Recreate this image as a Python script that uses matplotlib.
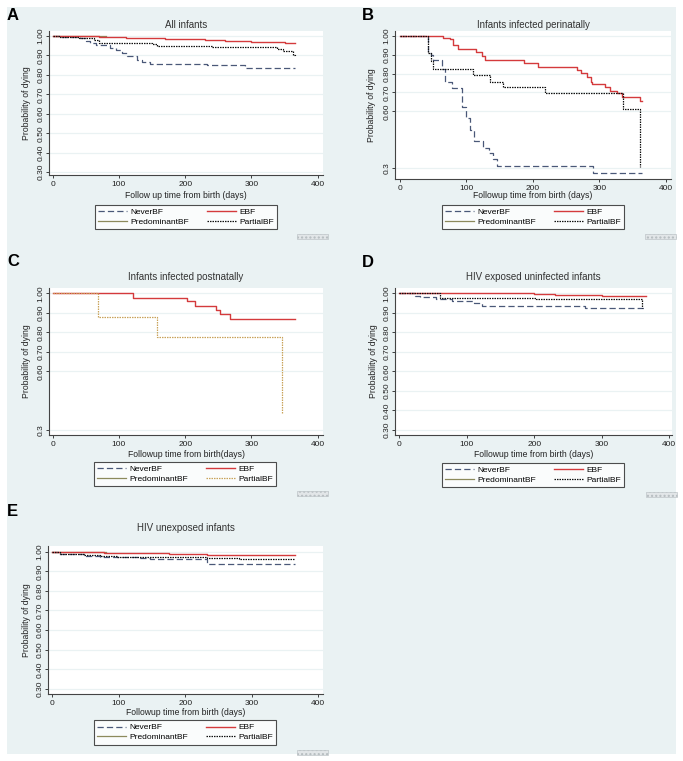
import matplotlib
matplotlib.use("Agg")
import matplotlib.pyplot as plt
from matplotlib.lines import Line2D
from matplotlib.patches import Rectangle

plt.rcParams['font.family'] = ['Liberation Sans', 'DejaVu Sans']

W, H = 683, 761

# ---- data (days, survival) ----
A_never_t = [0, 11, 41, 50, 57, 66, 86, 96, 104, 112, 127, 135, 147, 233, 290, 365]
A_never_s = [1.0, 0.997, 0.99, 0.975, 0.962, 0.952, 0.937, 0.928, 0.912, 0.895, 0.878, 0.866, 0.854, 0.849, 0.835, 0.835]
A_ebf_t = [0, 40, 70, 90, 110, 140, 170, 200, 230, 260, 285, 300, 330, 350, 365]
A_ebf_s = [1.0, 0.998, 0.996, 0.994, 0.992, 0.989, 0.986, 0.983, 0.979, 0.976, 0.972, 0.969, 0.967, 0.965, 0.965]
A_pred_t = [0, 80]
A_pred_s = [1.0, 1.0]
A_partial_t = [0, 10, 40, 62, 70, 150, 157, 240, 338, 348, 362, 365]
A_partial_s = [1.0, 0.994, 0.99, 0.978, 0.963, 0.958, 0.949, 0.945, 0.935, 0.924, 0.905, 0.897]

B_never_t = [0, 42, 47, 50, 63, 68, 78, 94, 100, 105, 111, 125, 134, 140, 146, 291, 365]
B_never_s = [1.0, 0.911, 0.899, 0.872, 0.823, 0.757, 0.722, 0.624, 0.562, 0.5, 0.443, 0.403, 0.376, 0.346, 0.309, 0.27, 0.27]
B_ebf_t = [0, 65, 75, 80, 88, 115, 123, 128, 186, 208, 266, 273, 281, 287, 289, 309, 316, 326, 334, 361, 365]
B_ebf_s = [1.0, 0.988, 0.982, 0.952, 0.929, 0.917, 0.894, 0.872, 0.858, 0.833, 0.819, 0.805, 0.784, 0.757, 0.743, 0.727, 0.707, 0.699, 0.677, 0.656, 0.656]
B_partial_t = [0, 42, 47, 50, 110, 135, 155, 218, 335, 362]
B_partial_s = [1.0, 0.91, 0.87, 0.823, 0.793, 0.757, 0.727, 0.699, 0.61, 0.305]

C_ebf_t = [0, 121, 202, 215, 247, 253, 268, 365]
C_ebf_s = [1.0, 0.978, 0.961, 0.937, 0.915, 0.894, 0.869, 0.869]
C_partial_t = [0, 68, 157, 346]
C_partial_s = [1.0, 0.877, 0.778, 0.389]

D_never_t = [0, 23, 31, 55, 78, 110, 122, 275, 365]
D_never_s = [1.0, 0.988, 0.983, 0.971, 0.961, 0.949, 0.937, 0.923, 0.923]
D_ebf_t = [0, 200, 230, 287, 300, 365]
D_ebf_s = [1.0, 0.997, 0.993, 0.99, 0.988, 0.988]
D_partial_t = [0, 60, 65, 203, 360]
D_partial_s = [1.0, 0.978, 0.974, 0.969, 0.923]

E_never_t = [0, 9, 47, 72, 92, 132, 147, 232, 365]
E_never_s = [1.0, 0.986, 0.98, 0.975, 0.971, 0.966, 0.963, 0.937, 0.937]
E_ebf_t = [0, 9, 77, 152, 175, 232, 365]
E_ebf_s = [1.0, 0.997, 0.995, 0.992, 0.989, 0.985, 0.983]
E_pred_t = [0, 80]
E_pred_s = [1.0, 1.0]
E_partial_t = [0, 11, 47, 72, 97, 132, 232, 280, 365]
E_partial_s = [1.0, 0.986, 0.983, 0.978, 0.975, 0.971, 0.966, 0.961, 0.961]

x_ticks = [0, 100, 200, 300, 400]
y_ticks_full = [0.30, 0.40, 0.50, 0.60, 0.70, 0.80, 0.90, 1.00]
y_labels_full = ["0.30", "0.40", "0.50", "0.60", "0.70", "0.80", "0.90", "1.00"]
y_ticks_short = [0.3, 0.60, 0.70, 0.80, 0.90, 1.00]
y_labels_short = ["0.3", "0.60", "0.70", "0.80", "0.90", "1.00"]
legend_names = ["NeverBF", "EBF", "PredominantBF", "PartialBF"]

BG = "#eaf2f3"
NAVY = "#4a5878"
RED = "#d43a3c"
OLIVE = "#8c8a5c"
TAN = "#c9a35a"
BLACK = "#111111"

STYLE = {
    "never": dict(color=NAVY, lw=0.9, dashes=(5, 2.5)),
    "ebf": dict(color=RED, lw=1.0),
    "pred": dict(color=OLIVE, lw=0.9),
    "partial": dict(color=BLACK, lw=0.9, dashes=(1.2, 0.8)),
}

fig = plt.figure(figsize=(W / 100, H / 100), dpi=100)
fig.patch.set_facecolor("white")
fig.add_artist(Rectangle((7 / W, 1 - 754 / H), (676 - 7) / W, (754 - 7) / H,
                         transform=fig.transFigure, facecolor=BG, edgecolor="none", zorder=0))


def fx(px):
    return px / W


def fy(py):
    return 1 - py / H


def draw_panel(letter, title, xlabel, box, xlim, ylim, yticks, ylabels,
               curves, leg_box, partial_color, title_y, xlabel_y, ylabel_x, letter_xy):
    left, top, right, bottom = box
    ax = fig.add_axes([fx(left), fy(bottom), (right - left) / W, (bottom - top) / H])
    ax.set_facecolor("white")
    for key, (t, s) in curves.items():
        st = dict(STYLE[key])
        if key == "partial":
            st["color"] = partial_color
        ax.step(t, s, where="post", **st)
    ax.set_xlim(*xlim)
    ax.set_ylim(*ylim)
    ax.set_xticks(x_ticks)
    ax.set_yticks(yticks)
    ax.set_yticklabels(ylabels, rotation=90, va="center")
    for yv in yticks:
        ax.axhline(yv, color=BG, lw=0.9, zorder=0)
    for sp in ["top", "right"]:
        ax.spines[sp].set_visible(False)
    for sp in ["left", "bottom"]:
        ax.spines[sp].set_color("#444444")
        ax.spines[sp].set_linewidth(0.8)
    ax.tick_params(axis="x", length=2.5, width=0.6, pad=1.5, labelsize=6.0, colors="#222222")
    ax.tick_params(axis="y", length=2.5, width=0.6, pad=1.0, labelsize=6.0, colors="#222222")

    cx = (left + right) / 2
    fig.text(fx(cx), fy(title_y), title, ha="center", va="center", fontsize=7, color="#333333")
    fig.text(fx(cx), fy(xlabel_y), xlabel, ha="center", va="center", fontsize=6.2, color="#222222")
    fig.text(fx(ylabel_x), fy((top + bottom) / 2), "Probability of dying", rotation=90,
             ha="center", va="center", fontsize=6.2, color="#222222")
    fig.text(fx(letter_xy[0]), fy(letter_xy[1]), letter, ha="left", va="center",
             fontsize=12, fontweight="bold")

    handles = [
        Line2D([], [], **STYLE["never"]),
        Line2D([], [], **STYLE["pred"]),
        Line2D([], [], **STYLE["ebf"]),
        Line2D([], [], **dict(STYLE["partial"], color=partial_color)),
    ]
    labels = [legend_names[0], legend_names[2], legend_names[1], legend_names[3]]
    lx0, ly0, lx1, ly1 = leg_box
    leg = fig.legend(handles, labels, ncol=2, loc="center",
                     bbox_to_anchor=(fx((lx0 + lx1) / 2), fy((ly0 + ly1) / 2)),
                     bbox_transform=fig.transFigure,
                     fontsize=6.0, frameon=True, fancybox=False, handlelength=3.5,
                     handletextpad=0.35, columnspacing=2.2, borderpad=0.4,
                     labelspacing=0.25, borderaxespad=0)
    leg.get_frame().set_edgecolor("#222222")
    leg.get_frame().set_linewidth(0.8)
    leg.get_frame().set_facecolor("white")

    # small graph marker box under the legend
    gx0, gy0 = right - 26, ly1 + 4
    fig.add_artist(Rectangle((fx(gx0), fy(gy0 + 5)), 31 / W, 5 / H, transform=fig.transFigure,
                             facecolor="#e2e6e8", edgecolor="#b5bcbf", lw=0.4, hatch="....",
                             zorder=1))
    return ax


draw_panel("A", "All infants", "Follow up time from birth (days)",
           (49, 31, 323, 175), (-5.6, 408), (0.285, 1.026), y_ticks_full, y_labels_full,
           {"never": (A_never_t, A_never_s), "pred": (A_pred_t, A_pred_s),
            "ebf": (A_ebf_t, A_ebf_s), "partial": (A_partial_t, A_partial_s)},
           (97, 204, 275, 230), BLACK, 25, 195.5, 27, (7, 15))

draw_panel("B", "Infants infected perinatally", "Followup time from birth (days)",
           (395, 31, 671, 179), (-7.5, 408), (0.24, 1.027), y_ticks_short, y_labels_short,
           {"never": (B_never_t, B_never_s), "ebf": (B_ebf_t, B_ebf_s),
            "partial": (B_partial_t, B_partial_s)},
           (443, 204, 623, 230), BLACK, 25, 196, 372, (362, 15))

draw_panel("C", "Infants infected postnatally", "Followup time from birth(days)",
           (49, 288, 323, 435), (-5.6, 408), (0.274, 1.027), y_ticks_short, y_labels_short,
           {"ebf": (C_ebf_t, C_ebf_s), "partial": (C_partial_t, C_partial_s)},
           (96, 461, 274, 487), TAN, 277, 454, 27, (7, 261))

draw_panel("D", "HIV exposed uninfected infants", "Followup time from birth (days)",
           (395, 288, 672, 435), (-6.4, 404), (0.274, 1.027), y_ticks_full, y_labels_full,
           {"never": (D_never_t, D_never_s), "ebf": (D_ebf_t, D_ebf_s),
            "partial": (D_partial_t, D_partial_s)},
           (444, 462, 622, 488), BLACK, 277, 454, 373, (362, 262))

draw_panel("E", "HIV unexposed infants", "Followup time from birth (days)",
           (48, 546, 323, 694), (-6.5, 407), (0.274, 1.029), y_ticks_full, y_labels_full,
           {"never": (E_never_t, E_never_s), "pred": (E_pred_t, E_pred_s),
            "ebf": (E_ebf_t, E_ebf_s), "partial": (E_partial_t, E_partial_s)},
           (96, 719, 274, 746), BLACK, 528, 712.5, 27, (7, 512))

fig.savefig("out.png", dpi=100, facecolor=fig.get_facecolor())
